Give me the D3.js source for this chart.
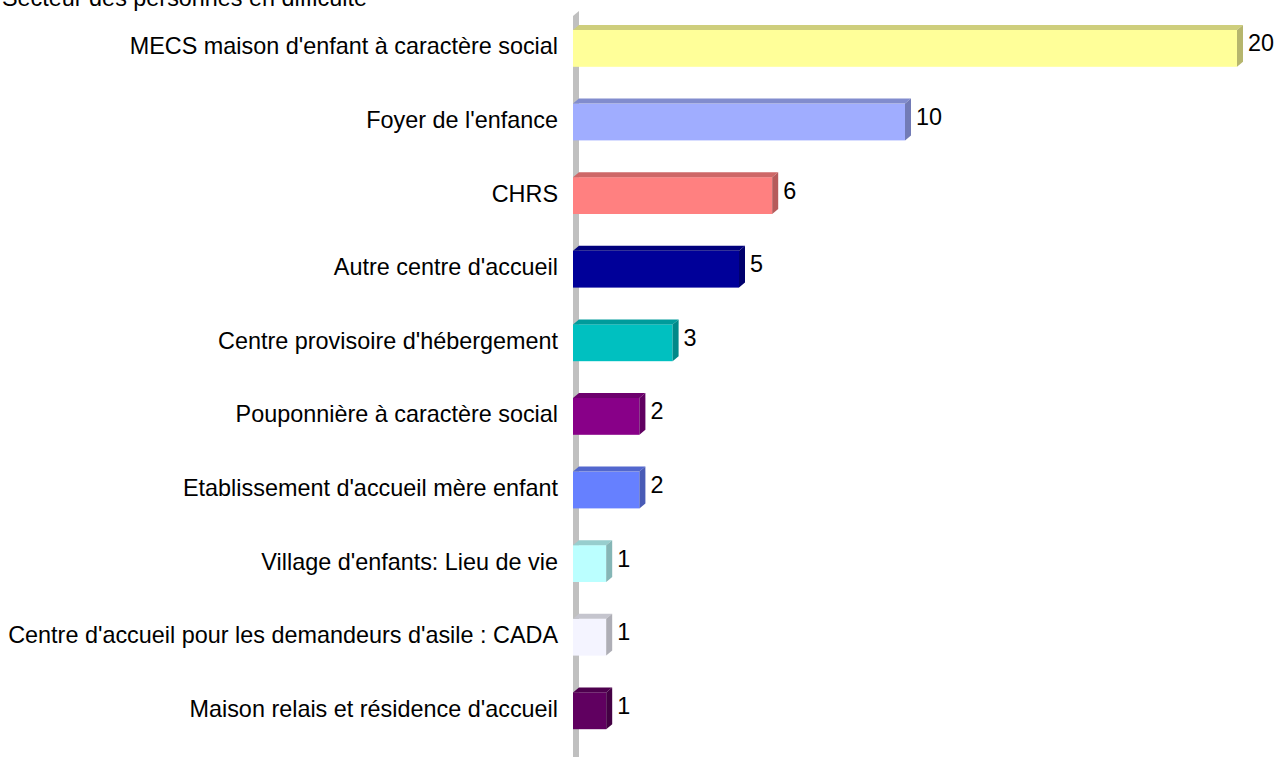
<!DOCTYPE html>
<html>
<head>
<meta charset="utf-8">
<script src="https://cdn.jsdelivr.net/npm/d3@7"></script>
<style>
html,body{margin:0;padding:0;background:#fff;overflow:hidden;}
svg{display:block;}
text{font-family:"Liberation Sans",Arial,sans-serif;fill:#000;}
</style>
</head>
<body>
<script>
const title = "Secteur des personnes en difficulté";
const categories = [
  "MECS maison d'enfant à caractère social",
  "Foyer de l'enfance",
  "CHRS",
  "Autre centre d'accueil",
  "Centre provisoire d'hébergement",
  "Pouponnière à caractère social",
  "Etablissement d'accueil mère enfant",
  "Village d'enfants: Lieu de vie",
  "Centre d'accueil pour les demandeurs d'asile : CADA",
  "Maison relais et résidence d'accueil"
];
const values = [20, 10, 6, 5, 3, 2, 2, 1, 1, 1];
const colors = ["#FFFF99", "#A0ADFF", "#FF8080", "#000099", "#00C0C0", "#880088", "#6680FF", "#BBFFFF", "#F4F4FF", "#600060"];

const W = 1276, H = 757;
const fontSize = 23.4;
const dx = 6, dy = 5;

const svg = d3.select("body").append("svg").attr("width", W).attr("height", H);

const x = d3.scaleLinear().domain([0, 20]).range([573, 1237]);
const y = d3.scaleBand().domain(categories).range([11.6, 747.6]).paddingInner(0.5).paddingOuter(0.25);

// axis wall
const x0 = x(0);
svg.append("polygon")
  .attr("points", [[x0, 16], [x0 + dx, 11], [x0 + dx, H + 10], [x0, H + 10]].map(p => p.join(",")).join(" "))
  .attr("fill", "#C0C0C0");

// title
svg.append("text").attr("x", 2).attr("y", 6).attr("font-size", fontSize).text(title);

const data = categories.map((c, i) => ({ c, v: values[i], col: colors[i] }));

const g = svg.selectAll("g.bar").data(data).join("g").attr("class", "bar");

g.append("rect")
  .attr("x", x0).attr("y", d => y(d.c))
  .attr("width", d => x(d.v) - x0).attr("height", y.bandwidth())
  .attr("fill", d => d.col);

g.append("polygon")
  .attr("points", d => {
    const yt = y(d.c), x1 = x(d.v);
    return [[x0, yt], [x0 + dx, yt - dy], [x1 + dx, yt - dy], [x1, yt]].map(p => p.join(",")).join(" ");
  })
  .attr("fill", d => d3.color(d.col).darker(0.6));

g.append("polygon")
  .attr("points", d => {
    const yt = y(d.c), x1 = x(d.v), h = y.bandwidth();
    return [[x1, yt], [x1 + dx, yt - dy], [x1 + dx, yt + h - dy], [x1, yt + h]].map(p => p.join(",")).join(" ");
  })
  .attr("fill", d => d3.color(d.col).darker(0.95));

// category labels
svg.selectAll("text.cat").data(data).join("text").attr("class", "cat")
  .attr("x", 558).attr("y", d => y(d.c) + y.bandwidth() / 2 + 6)
  .attr("text-anchor", "end").attr("font-size", fontSize)
  .text(d => d.c);

// value labels
svg.selectAll("text.val").data(data).join("text").attr("class", "val")
  .attr("x", d => x(d.v) + 11).attr("y", d => y(d.c) + y.bandwidth() / 2 + 3)
  .attr("font-size", fontSize)
  .text(d => d.v);
</script>
</body>
</html>
